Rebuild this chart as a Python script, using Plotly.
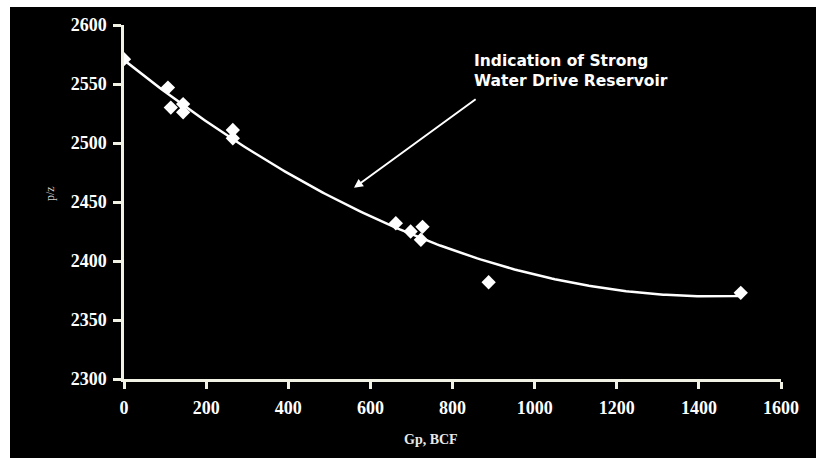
import numpy as np
import plotly.graph_objects as go

# Cumulative gas production (BCF) and p/z (psia)
gp = [0, 107, 114, 144, 144, 265, 265, 662, 698, 723, 727, 888, 1502]
pz = [2571, 2547, 2530, 2533, 2526, 2511, 2504, 2432, 2425, 2418, 2429, 2382, 2373]

x_ticks = [0, 200, 400, 600, 800, 1000, 1200, 1400, 1600]
y_ticks = [2300, 2350, 2400, 2450, 2500, 2550, 2600]

# second-order polynomial trend line through the measurements
coef = np.polyfit(gp, pz, 2)
x_fit = np.linspace(min(gp), max(gp), 200)
y_fit = np.polyval(coef, x_fit)

W, H = 816, 458
L, R, T, B = 124, 35, 25, 79
pw, ph = W - L - R, H - T - B

def px_x(p):
    return (p - L) / pw

def px_y(p):
    return (H - B - p) / ph

axis_col = "#F2F2E4"

fig = go.Figure()
fig.add_trace(go.Scatter(x=x_fit, y=y_fit, mode="lines",
                         line=dict(color="white", width=2.5),
                         hoverinfo="skip", showlegend=False))
fig.add_trace(go.Scatter(x=gp, y=pz, mode="markers",
                         marker=dict(symbol="diamond", size=11, color="white",
                                     line=dict(width=0)),
                         showlegend=False))

fig.update_layout(
    width=W, height=H,
    margin=dict(l=L, r=R, t=T, b=B),
    paper_bgcolor="white",
    plot_bgcolor="black",
    shapes=[dict(type="rect", xref="paper", yref="paper",
                 x0=px_x(10), x1=px_x(W + 5), y0=px_y(H + 5), y1=px_y(7),
                 fillcolor="black", line=dict(width=0), layer="below")],
    xaxis=dict(range=[0, 1600], tickvals=x_ticks, showgrid=False, zeroline=False,
               showline=True, linecolor=axis_col, linewidth=2.5,
               ticks="outside", ticklen=7, tickwidth=2.5, tickcolor=axis_col,
               ticklabelstandoff=4,
               tickfont=dict(family="Liberation Serif", size=18, color="white",
                             weight="bold")),
    yaxis=dict(range=[2300, 2600], tickvals=y_ticks, showgrid=False, zeroline=False,
               showline=True, linecolor=axis_col, linewidth=2.5,
               ticks="outside", ticklen=8, tickwidth=2.5, tickcolor=axis_col,
               ticklabelstandoff=3,
               tickfont=dict(family="Liberation Serif", size=18, color="white",
                             weight="bold")),
    annotations=[
        dict(x=560, y=2462, ax=860, ay=2538, xref="x", yref="y",
             axref="x", ayref="y", text="", showarrow=True,
             arrowhead=2, arrowsize=0.9, arrowwidth=2, arrowcolor="white"),
        dict(x=px_x(472), y=px_y(71), xref="paper", yref="paper",
             xanchor="left", yanchor="middle", align="left", showarrow=False,
             text="Indication of Strong<br>Water Drive Reservoir",
             font=dict(family="DejaVu Sans", size=15.5, color="white",
                       weight="bold")),
        dict(x=px_x(431), y=px_y(439), xref="paper", yref="paper",
             xanchor="center", yanchor="middle", showarrow=False,
             text="Gp, BCF",
             font=dict(family="Liberation Serif", size=14, color="#E8E8E8",
                       weight="bold")),
        dict(x=px_x(50), y=px_y(194), xref="paper", yref="paper",
             xanchor="center", yanchor="middle", showarrow=False,
             text="p/z", textangle=-90,
             font=dict(family="Liberation Serif", size=12, color="#CFCFCF")),
    ],
)

fig.write_html("out.html")
